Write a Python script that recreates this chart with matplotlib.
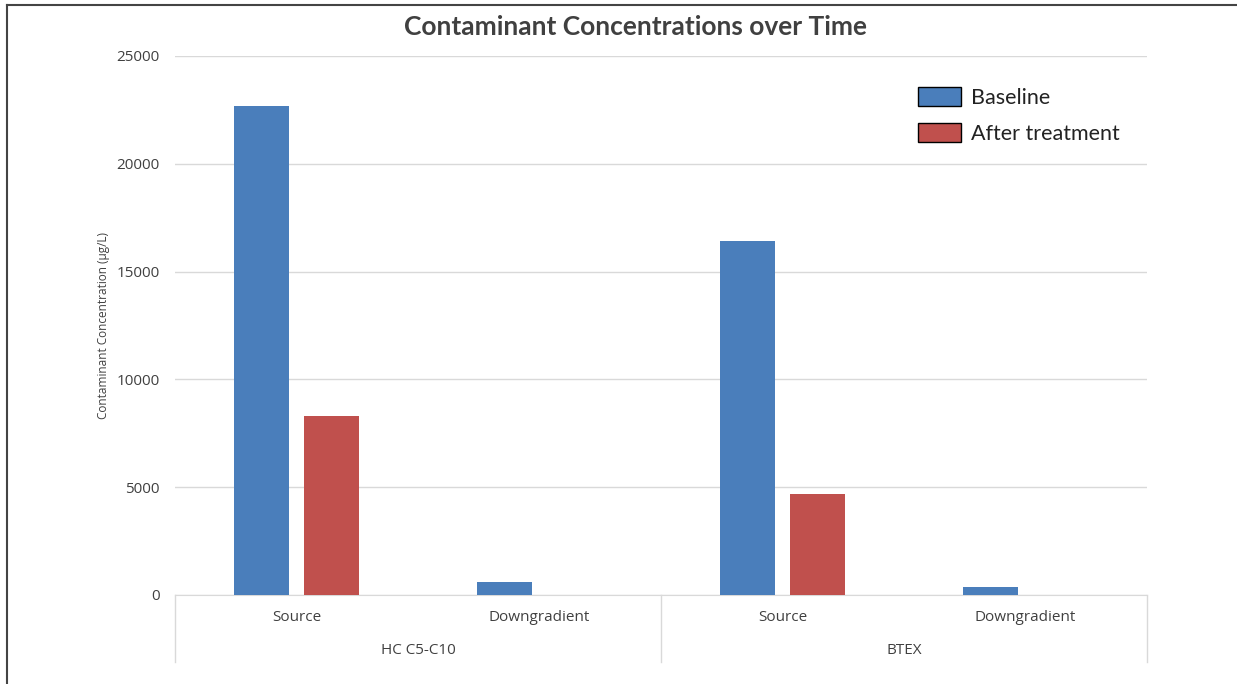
import numpy as np
import matplotlib.pyplot as plt
from matplotlib.patches import Patch
import matplotlib.transforms as mtransforms

# data
groups = ["HC C5-C10", "BTEX"]
locations = ["Source", "Downgradient"]
baseline = [22700, 600, 16400, 370]
after_treatment = [8300, 0, 4700, 0]

blue = "#4a7ebb"
red = "#c0504d"
grid_col = "#d9d9d9"
text_col = "#404040"

fig = plt.figure(figsize=(12.37, 6.84), dpi=100)
ax = fig.add_axes([175/1237, 1-595/684, (1147-175)/1237, (595-56)/684])

x = np.arange(len(baseline))
w = 0.226
off = 0.144
ax.bar(x - off, baseline, width=w, color=blue, zorder=3)
ax.bar(x + off, after_treatment, width=w, color=red, zorder=3)

ax.set_xlim(-0.5, len(baseline) - 0.5)
ax.set_ylim(0, 25000)
ax.set_yticks(np.arange(0, 25001, 5000))
ax.yaxis.grid(True, color=grid_col, linewidth=1, zorder=0)
ax.tick_params(axis="y", length=0, pad=11, labelsize=11, labelcolor=text_col)
ax.tick_params(axis="x", length=0, pad=11, labelsize=11, labelcolor=text_col)
for lab in ax.get_yticklabels() + ax.get_xticklabels():
    lab.set_family("Open Sans")
ax.set_xticks(x)
ax.set_xticklabels(locations * len(groups), family="Open Sans")

for s in ["top", "right", "left"]:
    ax.spines[s].set_visible(False)
ax.spines["bottom"].set_color(grid_col)

# group separators and group labels under the axis
trans = mtransforms.blended_transform_factory(ax.transData, ax.transAxes)
bottom = -(662 - 595) / 539
for xs in [-0.5, 1.5, 3.5]:
    ax.plot([xs, xs], [0, bottom], transform=trans, color=grid_col,
            linewidth=1, clip_on=False)
for i, g in enumerate(groups):
    ax.text(2 * i + 0.5, -(650 - 595) / 539, g, transform=trans,
            ha="center", va="center", fontsize=11, color=text_col,
            family="Open Sans")

ax.set_ylabel("Contaminant Concentration (µg/L)", fontsize=8.5,
              color=text_col, family="Open Sans")
ax.yaxis.set_label_coords((110 - 175) / 972, 0.5)

fig.text(636/1237, 1 - 27/684, "Contaminant Concentrations over Time",
         ha="center", va="center", fontsize=19, fontweight="bold",
         color=text_col, family="Lato")

handles = [Patch(facecolor=blue, edgecolor="black", linewidth=1, label="Baseline"),
           Patch(facecolor=red, edgecolor="black", linewidth=1, label="After treatment")]
leg = fig.legend(handles=handles, loc="upper left",
                 bbox_to_anchor=(918/1237, 1 - 87/684), frameon=False,
                 borderaxespad=0, borderpad=0, handlelength=2.0,
                 handleheight=1.0, handletextpad=0.45, labelspacing=0.7,
                 prop={"family": "Lato", "size": 15.5})
for t in leg.get_texts():
    t.set_color("#222222")

# border of the screenshot
fig.add_artist(plt.Line2D([7/1237, 7/1237], [0, 1 - 5/684], color="#444444",
                          linewidth=1.5, transform=fig.transFigure))
fig.add_artist(plt.Line2D([7/1237, 1], [1 - 5/684, 1 - 5/684], color="#444444",
                          linewidth=1.5, transform=fig.transFigure))

fig.savefig("out.png", dpi=100)
